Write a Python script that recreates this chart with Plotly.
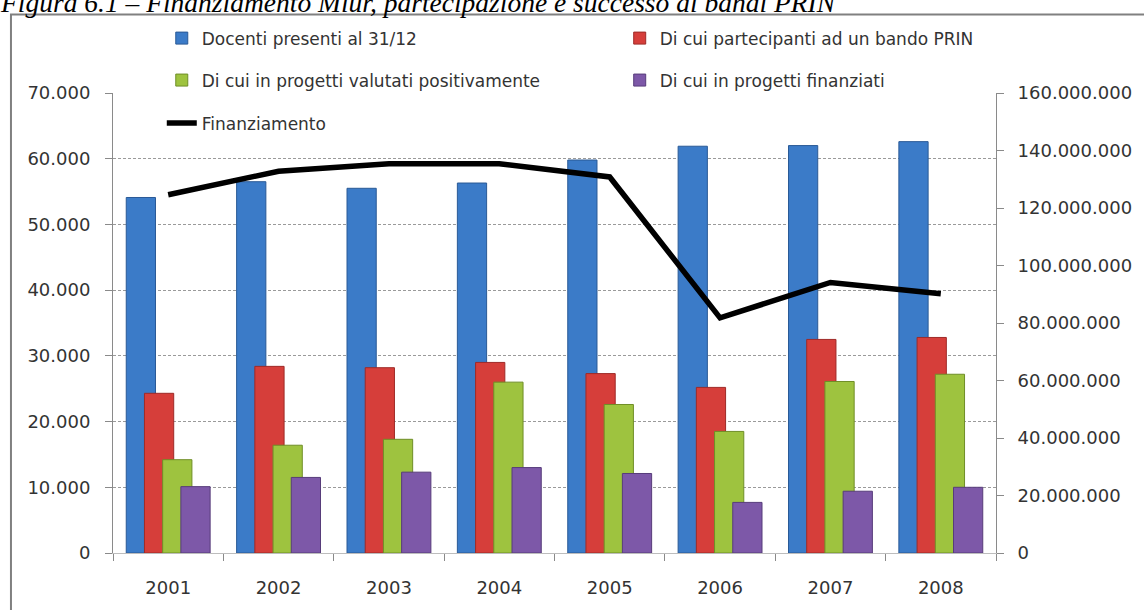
import plotly.graph_objects as go

# Academic years
anni = ["2001", "2002", "2003", "2004", "2005", "2006", "2007", "2008"]

# Teaching staff and PRIN participation (people)
docenti = [54100, 56500, 55500, 56300, 59800, 61900, 62000, 62600]
partecipanti = [24300, 28400, 28200, 29000, 27300, 25200, 32500, 32800]
valutati_pos = [14200, 16400, 17300, 26000, 22600, 18500, 26100, 27200]
finanziati = [10100, 11500, 12300, 13000, 12100, 7700, 9400, 10000]

# MIUR funding (euro), right axis
finanziamento = [124600000, 132800000, 135400000, 135400000, 130800000, 81800000, 94100000, 90200000]

W, H = 1144, 610
ML, MR, MT, MB = 113, 144, 92.5, 57
PW = W - ML - MR
PH = H - MT - MB


def px_x(px):
    return (px - ML) / PW


def px_y(py):
    return (H - MB - py) / PH


FONT = "DejaVu Sans"
TXT = "#333333"

bar_specs = [
    ("Docenti presenti al 31/12", docenti, "#3B7BC8", "#2A5A96", -0.38, "legend"),
    ("Di cui partecipanti ad un bando PRIN", partecipanti, "#D63E3A", "#9E2A27", -0.215, "legend2"),
    ("Di cui in progetti valutati positivamente", valutati_pos, "#9EC33F", "#6F8E27", -0.05, "legend3"),
    ("Di cui in progetti finanziati", finanziati, "#7D58A8", "#573C7A", 0.115, "legend4"),
]

fig = go.Figure()
for name, vals, col, edge, off, leg in bar_specs:
    fig.add_trace(go.Bar(
        x=anni, y=vals, name=name,
        width=0.265, offset=off,
        marker=dict(color=col, line=dict(color=edge, width=1)),
        legend=leg,
    ))

fig.add_trace(go.Scatter(
    x=anni, y=finanziamento, name="Finanziamento", yaxis="y2",
    mode="lines", line=dict(color="black", width=5.5),
    legend="legend5",
))

legend_common = dict(
    font=dict(family=FONT, size=17, color=TXT),
    bgcolor="rgba(0,0,0,0)", borderwidth=0,
    xanchor="left", yanchor="middle", orientation="h",
)

fig.update_layout(
    width=W, height=H,
    margin=dict(l=ML, r=MR, t=MT, b=MB),
    paper_bgcolor="white", plot_bgcolor="white",
    barmode="overlay",
    separators=",.",
    font=dict(family=FONT, size=18, color=TXT),
    xaxis=dict(
        type="category", tickson="boundaries",
        ticks="outside", ticklen=7, tickcolor="#8a8a8a",
        showline=True, linecolor="#bdbdbd", linewidth=1,
        showgrid=False, ticklabelstandoff=18,
        tickfont=dict(family=FONT, size=18, color=TXT),
    ),
    yaxis=dict(
        range=[0, 70000], dtick=10000, tickformat=",d",
        ticks="outside", ticklen=7, tickcolor="#8a8a8a",
        showline=True, linecolor="#8a8a8a", linewidth=1,
        showgrid=True, gridcolor="#9a9a9a", griddash="3px,2px", gridwidth=1,
        zeroline=False, ticklabelstandoff=11,
        tickfont=dict(family=FONT, size=18, color=TXT),
    ),
    yaxis2=dict(
        range=[0, 160000000], dtick=20000000, tickformat=",d",
        overlaying="y", side="right", anchor="x",
        ticks="outside", ticklen=7, tickcolor="#8a8a8a",
        showline=True, linecolor="#8a8a8a", linewidth=1,
        showgrid=False, zeroline=False, ticklabelstandoff=10,
        tickfont=dict(family=FONT, size=18, color=TXT),
    ),
    legend=dict(x=px_x(162), y=px_y(38), **legend_common),
    legend2=dict(x=px_x(622), y=px_y(38), **legend_common),
    legend3=dict(x=px_x(162), y=px_y(80), **legend_common),
    legend4=dict(x=px_x(622), y=px_y(80), **legend_common),
    legend5=dict(x=px_x(162), y=px_y(123), **legend_common),
    showlegend=True,
)

# Outer chart frame
fig.add_shape(
    type="rect", xref="paper", yref="paper",
    x0=px_x(10.5), x1=px_x(1160), y0=px_y(625), y1=px_y(14),
    line=dict(color="#808080", width=2), fillcolor="rgba(0,0,0,0)",
    layer="below",
)

# Figure caption above the frame
fig.add_annotation(
    text="<i>Figura 6.1 – Finanziamento Miur, partecipazione e successo ai bandi PRIN</i>",
    xref="paper", yref="paper", x=px_x(-3), y=px_y(2),
    xanchor="left", yanchor="middle", showarrow=False,
    font=dict(family="Liberation Serif", size=27.5, color="black"),
)

fig.write_html("out.html")
